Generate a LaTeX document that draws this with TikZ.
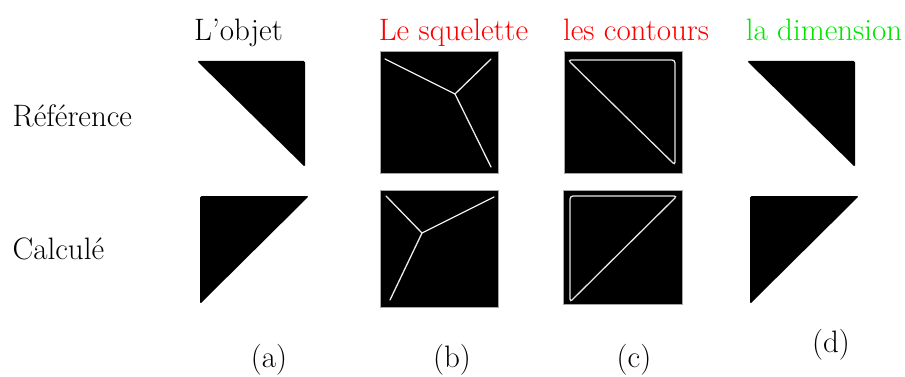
\documentclass[tikz,border=0pt]{standalone}
\usepackage{fontspec}
\begin{document}
\begin{tikzpicture}[x=1pt,y=-1pt,
  lbl/.style={font=\fontsize{31}{37}\selectfont, inner sep=0pt, anchor=base},
  tri/.style={fill=black, rounded corners=1.5pt},
  frame/.style={fill=black, draw=gray!70, line width=1pt},
  skel/.style={draw=white!85!gray, line width=1.3pt, line cap=round},
  cont/.style={draw=white!80!gray, line width=1.3pt, rounded corners=3pt}]
\useasboundingbox (0,0) rectangle (905,377);
% titles
\node[lbl] (t1) at (238.5,40.5) {L’objet};
\node[lbl, text=red] (t2) at (453.5,40.5) {Le squelette};
\node[lbl, text=red] (t3) at (636,40.5) {les contours};
\node[lbl, text={rgb,255:red,0;green,230;blue,0}] (t4) at (824,40.5) {la dimension};
\node[lbl, anchor=base west] (r1) at (12.5,126.5) {Référence};
\node[lbl, anchor=base west] (r2) at (12.5,259.5) {Calculé};
\node[lbl] (ca) at (269,367) {(a)};
\node[lbl] (cb) at (452,367) {(b)};
\node[lbl] (cc) at (634,367) {(c)};
\node[lbl] (cd) at (831,352) {(d)};
% row 1
\fill[tri] (197,61) -- (305,61) -- (305,167) -- cycle;
\draw[frame] (380,52) rectangle (498,173);
\draw[skel] (385,59) -- (455,94) -- (491,59);
\draw[skel] (455,94) -- (491,167);
\draw[frame] (564,52) rectangle (682,173);
\draw[cont] (568,60) -- (675,60) -- (675,165) -- cycle;
\fill[tri] (747,61) -- (855,61) -- (855,167) -- cycle;
% row 2
\fill[tri] (200,196) -- (309,196) -- (200,304) -- cycle;
\draw[frame] (380,190) rectangle (498,307);
\draw[skel] (386,196) -- (422,233) -- (494,197);
\draw[skel] (422,233) -- (390,300);
\draw[frame] (563,190) rectangle (682,304);
\draw[cont] (570,196) -- (677,196) -- (570,302) -- cycle;
\fill[tri] (750,196) -- (859,196) -- (750,304) -- cycle;
\end{tikzpicture}
\end{document}
